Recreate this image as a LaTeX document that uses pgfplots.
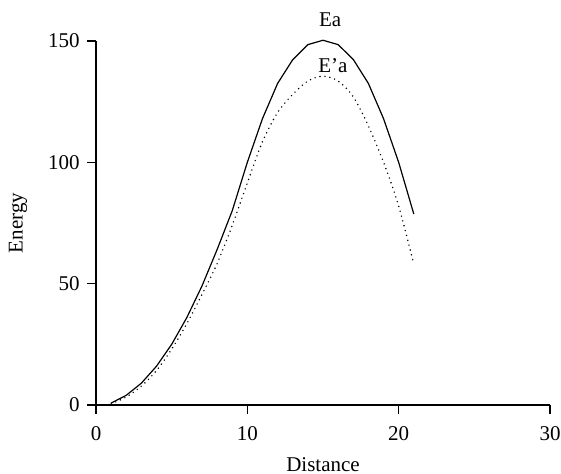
\documentclass[border=0pt]{standalone}
\usepackage{fontspec}
\setmainfont{Liberation Serif}
\usepackage{pgfplots}
\pgfplotsset{compat=1.18}
\begin{document}
\begin{tikzpicture}
\begin{axis}[
  scale only axis,
  width=227pt, height=182pt,
  xmin=0, xmax=30, ymin=0, ymax=150,
  axis x line=bottom, axis y line=left,
  axis line style={-, line width=0.6pt},
  tick align=outside,
  major tick length=4.5pt,
  tick style={line width=0.6pt, black},
  xtick={0,10,20,30}, ytick={0,50,100,150},
  minor tick num=0,
  clip=false,
  /pgf/number format/assume math mode=true,
  tick label style={font=\fontsize{10.5pt}{12pt}\selectfont},
  xticklabel style={inner sep=0pt, anchor=north, yshift=-6.3pt},
  yticklabel style={inner sep=0pt, anchor=east, xshift=-3.5pt},
  xlabel={Distance}, ylabel={Energy},
  label style={font=\fontsize{10.5pt}{12pt}\selectfont},
  xlabel style={at={(axis description cs:0.5,0)}, anchor=base, yshift=-33.3pt, inner sep=0pt},
  ylabel style={at={(axis description cs:0,0.5)}, anchor=center, yshift=39pt, inner sep=0pt},
]
\addplot[black, line width=0.6pt] coordinates {
(1,0.8) (2,4) (3,9) (4,16) (5,25) (6,36) (7,49) (8,64) (9,80) (10,100)
(11,118) (12,132.5) (13,142.3) (14,148.5) (15,150.3) (16,148.5) (17,142.4)
(18,132.5) (19,118) (20,100) (21,78.7)
};
\addplot[black, line width=0.8pt, line cap=round, dash pattern=on 0pt off 2.5pt, smooth] coordinates {
(1,0.5) (2,3.3) (3,7.8) (4,14.2) (5,23) (6,33.5) (7,45.5) (8,58.2) (9,74) (10,91.5)
(11,108.5) (12,120.5) (13,128) (14,133.5) (15,135.5) (16,133.5) (17,127)
(18,115) (19,100) (20,82) (21,58)
};
\node[font=\fontsize{10.5pt}{12pt}\selectfont, inner sep=0pt] at (axis cs:15.47,158.9) {Ea};
\node[font=\fontsize{10.5pt}{12pt}\selectfont, inner sep=0pt] at (axis cs:15.66,140) {E’a};
\coordinate (O) at (rel axis cs:0,0);
\end{axis}
\pgfresetboundingbox
\path ([shift={(-48pt,-34.5pt)}]O) rectangle ([shift={(232.5pt,202.5pt)}]O);
\end{tikzpicture}
\end{document}
